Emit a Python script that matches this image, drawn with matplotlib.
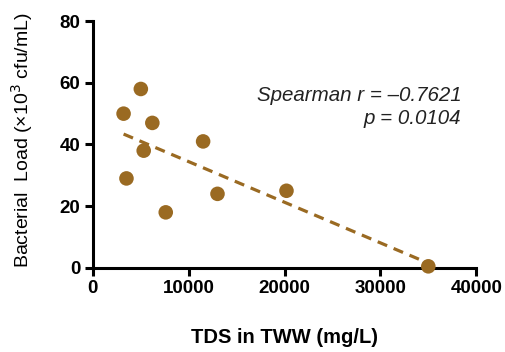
import matplotlib
matplotlib.use("Agg")
import matplotlib.pyplot as plt
import numpy as np

plt.rcParams["font.family"] = ["Liberation Sans", "DejaVu Sans"]

# TDS in treated wastewater (mg/L) vs bacterial load (x10^3 cfu/mL)
tds = [3200, 5000, 6200, 5300, 3500, 7600, 11500, 13000, 20200, 35000]
load = [50, 58, 47, 38, 29, 18, 41, 24, 25, 0.5]
x_ticks = [0, 10000, 20000, 30000, 40000]
y_ticks = [0, 20, 40, 60, 80]

brown = "#9a6a22"

fig = plt.figure(figsize=(5.05, 3.52), dpi=100)
ax = fig.add_axes([0.184, 0.239, 0.759, 0.701])

ax.scatter(tds, load, s=110, color=brown, edgecolors="none", zorder=3, clip_on=False)

# least-squares trend line over the data range
slope, icpt = np.polyfit(tds, load, 1)
xs = np.array([min(tds), max(tds)])
ax.plot(xs, slope * xs + icpt, color=brown, lw=2.3, dashes=(3.2, 2.2), zorder=2)

ax.set_xlim(0, 40000)
ax.set_ylim(0, 80)
ax.set_xticks(x_ticks)
ax.set_yticks(y_ticks)
for s in ("top", "right"):
    ax.spines[s].set_visible(False)
for s in ("left", "bottom"):
    ax.spines[s].set_linewidth(2.2)
ax.tick_params(width=2.2, length=6, labelsize=13.5, pad=3)
for lab in ax.get_xticklabels() + ax.get_yticklabels():
    lab.set_fontweight("bold")

fig.text(0.044, 0.603, "Bacterial  Load (\u00d710$^3$ cfu/mL)", fontsize=14,
         rotation=90, ha="center", va="center")
fig.text(0.564, 0.04, "TDS in TWW (mg/L)", fontsize=14.5, fontweight="bold",
         ha="center", va="center")

ax.text(0.961, 0.70, "Spearman r = \u20130.7621", transform=ax.transAxes,
        ha="right", va="center", fontsize=14.8, style="italic", color="#222222")
ax.text(0.961, 0.607, "p = 0.0104", transform=ax.transAxes,
        ha="right", va="center", fontsize=14.8, style="italic", color="#222222")

fig.savefig("out.png", dpi=100)
